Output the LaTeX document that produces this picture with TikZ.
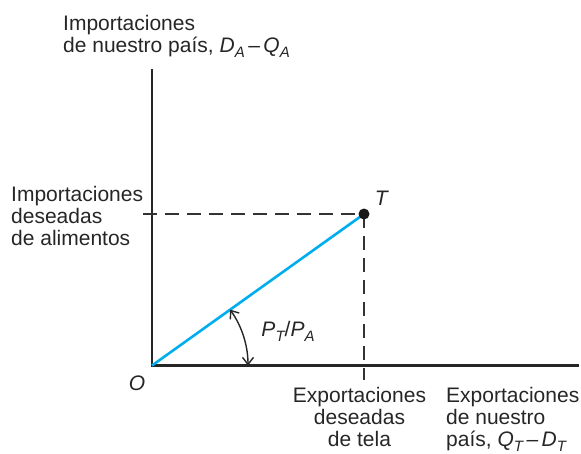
\documentclass[tikz,border=0pt]{standalone}
\usepackage{fontspec}
\setmainfont{Liberation Sans}
\usetikzlibrary{arrows.meta}
\definecolor{cyanline}{HTML}{00AEEF}
\newcommand\lowsub[1]{\raisebox{-0.45ex}{\fontsize{15}{15}\selectfont\itshape #1}}
\begin{document}
\begin{tikzpicture}[x=1pt,y=-1pt,
  lbl/.style={font=\fontsize{21}{22}\selectfont, inner sep=0pt, text=black!85},
  axisline/.style={line width=2.8pt, black!85},
  guide/.style={line width=1.2pt, black!80, dash pattern=on 14pt off 8pt},
  ratioline/.style={line width=2.6pt, cyanline},
  angarrow/.style={line width=1.4pt, black!85, {Straight Barb[length=7pt,width=11pt]}-{Straight Barb[length=7pt,width=11pt]}}]
\useasboundingbox (0,0) rectangle (581,453);
\coordinate (O) at (152,365.5);
\coordinate (ytop) at (152,69);
\coordinate (xend) at (579,365.5);
\coordinate (T) at (364,214);
\coordinate (hstart) at (143,214);
\coordinate (vend) at (364,380);
\draw[axisline] (ytop) -- (O) -- (xend);
\draw[guide] (hstart) -- (T);
\draw[guide] (T) -- (vend);
\draw[ratioline] (O) -- (T);
\fill[black!90] (T) circle (5.5);
\draw[angarrow] ([shift={(96,0)}]O) arc[start angle=0, end angle=-35.6, radius=96];
\node[lbl, anchor=north west, align=left] (ylabel) at (63,15) {Importaciones\\de nuestro país, \textit{D}\lowsub{A}\,–\,\textit{Q}\lowsub{A}};
\node[lbl, anchor=north west, align=left] (imp) at (11,186) {Importaciones\\deseadas\\de alimentos};
\node[lbl, anchor=north, align=center] (expd) at (359.5,387) {Exportaciones\\deseadas\\de tela};
\node[lbl, anchor=north west, align=left] (xlabel) at (446,387) {Exportaciones\\de nuestro\\país, \textit{Q}\lowsub{T}\,–\,\textit{D}\lowsub{T}};
\node[lbl] (Olbl) at (137,383) {\textit{O}};
\node[lbl] (Tlbl) at (382,198) {\textit{T}};
\node[lbl] (slope) at (288,331) {\textit{P}\lowsub{T}/\textit{P}\lowsub{A}};
\end{tikzpicture}
\end{document}
